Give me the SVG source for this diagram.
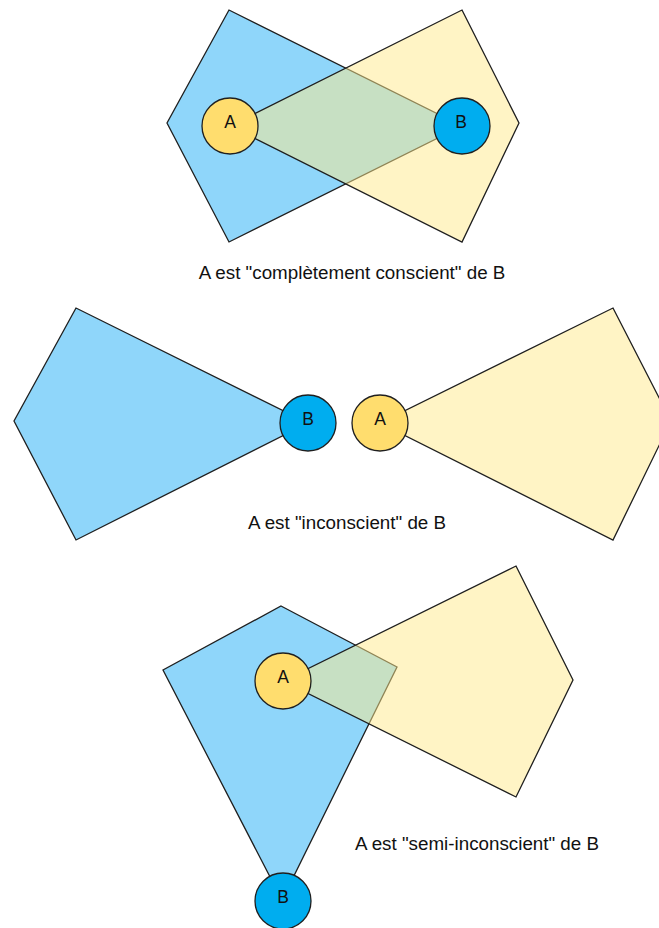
<svg xmlns="http://www.w3.org/2000/svg" width="659" height="928" viewBox="0 0 659 928">
  <style>
    .cone-a { fill: #8FD6FA; stroke: #1f1f1f; stroke-width: 1.3; stroke-linejoin: miter; }
    .cone-b { fill: #FFE98B; fill-opacity: 0.5; stroke: #1f1f1f; stroke-width: 1.3; stroke-linejoin: miter; }
    .node-a { fill: #FFDD6E; stroke: #1f1f1f; stroke-width: 1.3; }
    .node-b { fill: #00ADEF; stroke: #1f1f1f; stroke-width: 1.3; }
    .label { font-family: "Liberation Sans", Arial, sans-serif; font-size: 17.5px; fill: #111; text-anchor: middle; }
    .caption { font-family: "Liberation Sans", Arial, sans-serif; font-size: 18.8px; fill: #111; text-anchor: middle; }
  </style>
  <rect width="659" height="928" fill="#ffffff"/>

  <!-- Fields of view (cones drawn behind the nodes) -->
  <g id="connectors">
    <!-- 1: mutual awareness -->
    <polygon class="cone-a" points="229,10 167,123 229,242 462,126"/>
    <polygon class="cone-b" points="462,10 519,123 462,242 230,126"/>
    <!-- 2: no awareness -->
    <polygon class="cone-a" points="76,308 14,421 76,540 308,423"/>
    <polygon class="cone-b" points="613,308 671,421 613,540 380,423"/>
    <!-- 3: partial awareness -->
    <polygon class="cone-a" points="281,606 397,667 282,900 163,670"/>
    <polygon class="cone-b" points="516,566 573,680 516,797 283,681"/>
  </g>

  <!-- Scene 1 -->
  <g id="node-a1">
    <circle class="node-a" cx="230" cy="126" r="28"/>
    <text class="label" x="230" y="127.5">A</text>
  </g>
  <g id="node-b1">
    <circle class="node-b" cx="462" cy="126" r="28"/>
    <text class="label" x="461" y="127.5">B</text>
  </g>
  <g id="caption-1">
    <text class="caption" x="352" y="279">A est "complètement conscient" de B</text>
  </g>

  <!-- Scene 2 -->
  <g id="node-b2">
    <circle class="node-b" cx="308" cy="423" r="28"/>
    <text class="label" x="308" y="425">B</text>
  </g>
  <g id="node-a2">
    <circle class="node-a" cx="380" cy="423" r="28"/>
    <text class="label" x="380" y="425">A</text>
  </g>
  <g id="caption-2">
    <text class="caption" x="347" y="529">A est "inconscient" de B</text>
  </g>

  <!-- Scene 3 -->
  <g id="node-a3">
    <circle class="node-a" cx="283" cy="681" r="28"/>
    <text class="label" x="283" y="683">A</text>
  </g>
  <g id="node-b3">
    <circle class="node-b" cx="283" cy="901" r="28"/>
    <text class="label" x="283" y="903">B</text>
  </g>
  <g id="caption-3">
    <text class="caption" x="477" y="850">A est "semi-inconscient" de B</text>
  </g>
</svg>
